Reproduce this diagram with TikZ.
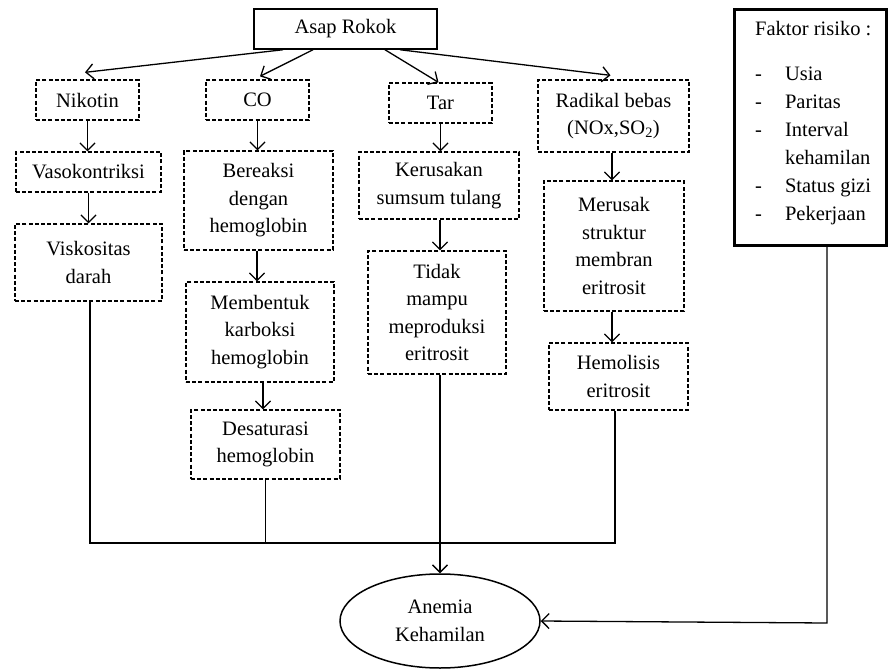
\documentclass[tikz,border=0pt]{standalone}
\usepackage{fontspec}
\setmainfont{Liberation Serif}
\usetikzlibrary{arrows.meta,shapes.geometric,calc}
\begin{document}
\begin{tikzpicture}[x=1pt,y=-1pt,
  font=\fontsize{20.5}{27.5}\selectfont,
  dbox/.style={draw,dash pattern=on 4pt off 2.2pt,line width=1.3pt,align=center,inner sep=2pt},
  sbox/.style={draw,line width=1.5pt,align=center,inner sep=2pt},
  arr/.style={line width=1.3pt,-{Straight Barb[length=7.5pt,width=15pt,line width=1.3pt]}},
  ln/.style={line width=1.3pt}]
\useasboundingbox (0,0) rectangle (889,669);
\node[sbox,minimum width=183pt,minimum height=40pt] (asap) at (345.5,29) {Asap Rokok};
\node[dbox,minimum width=103pt,minimum height=40pt] (nik) at (87.5,100) {Nikotin};
\node[dbox,minimum width=103pt,minimum height=40pt] (co) at (257.5,100) {CO};
\node[dbox,minimum width=103pt,minimum height=40pt] (tar) at (440.5,103) {Tar};
\node[dbox,minimum width=151pt,minimum height=72pt] (rad) at (613.5,116) {Radikal bebas\\(NOx,SO\textsubscript{2})};
\node[dbox,minimum width=145pt,minimum height=40pt] (vaso) at (88.5,172) {Vasokontriksi};
\node[dbox,minimum width=149pt,minimum height=99pt] (ber) at (258.5,200.5) {Bereaksi\\dengan\\hemoglobin};
\node[dbox,minimum width=160pt,minimum height=67pt] (ker) at (439,185.5) {Kerusakan\\sumsum tulang};
\node[dbox,minimum width=140pt,minimum height=130pt] (mer) at (614,246) {Merusak\\struktur\\membran\\eritrosit};
\node[dbox,minimum width=147pt,minimum height=77pt] (visk) at (88.5,262.5) {Viskositas\\darah};
\node[dbox,minimum width=148pt,minimum height=100pt] (mem) at (260,332) {Membentuk\\karboksi\\hemoglobin};
\node[dbox,minimum width=138pt,minimum height=123pt] (tid) at (437,312.5) {Tidak\\mampu\\meproduksi\\eritrosit};
\node[dbox,minimum width=139pt,minimum height=67pt] (hem) at (618.5,376.5) {Hemolisis\\eritrosit};
\node[dbox,minimum width=149pt,minimum height=69pt] (des) at (265.5,444.5) {Desaturasi\\hemoglobin};
\node[draw,line width=3pt,minimum width=152pt,minimum height=235pt,inner sep=0pt] (fak) at (810.5,127.5) {};
\node[anchor=north west,inner sep=0pt,align=left] (faktxt) at (755,16) {%
\fontsize{20.5}{28}\selectfont
\begin{tabular}{@{}l@{\hspace{23pt}}l@{}}
\multicolumn{2}{@{}l}{Faktor risiko :}\\[17pt]
- & Usia\\
- & Paritas\\
- & Interval\\
  & kehamilan\\
- & Status gizi\\
- & Pekerjaan
\end{tabular}};
\node[draw,ellipse,line width=1.5pt,minimum width=200pt,minimum height=94pt,align=center,inner sep=0pt] (anem) at (440,621) {Anemia\\Kehamilan};
\coordinate (jl) at (90,543);
\coordinate (fk) at (827,623);
% arrows from Asap Rokok
\draw[arr] ([xshift=-62.5pt]asap.south) -- ([shift={(-2.5pt,7pt)}]nik.north);
\draw[arr] ([xshift=-32.5pt]asap.south) -- ([shift={(2.5pt,3pt)}]co.north);
\draw[arr] ([xshift=39.5pt]asap.south) -- ([xshift=-2pt]tar.north);
\draw[arr] ([xshift=54.5pt]asap.south) -- ([shift={(-3pt,4pt)}]rad.north);
% column arrows
\draw[arr] (nik.south) -- (nik.south |- vaso.north);
\draw[arr] (vaso.south) -- (vaso.south |- visk.north);
\draw[arr] (co.south) -- (co.south |- ber.north);
\draw[arr] ([xshift=-1.5pt]ber.south) -- ([xshift=-1.5pt]ber.south |- mem.north);
\draw[arr] ([xshift=3pt]mem.south) -- ([xshift=3pt]mem.south |- des.north);
\draw[arr] (tar.south) -- (tar.south |- ker.north);
\draw[arr] ([xshift=1pt]ker.south) -- ([xshift=1pt]ker.south |- tid.north);
\draw[arr] ([xshift=-1.5pt]rad.south) -- ([xshift=-1.5pt]rad.south |- mer.north);
\draw[arr] ([xshift=-2pt]mer.south) -- ([xshift=-2pt]mer.south |- hem.north);
% to anemia
\draw[ln] ([xshift=1.5pt]visk.south) -- ([xshift=1.5pt]visk.south |- jl) -- ([xshift=-3.5pt]hem.south |- jl) -- ([xshift=-3.5pt]hem.south);
\draw[ln] (des.south) -- (des.south |- jl);
\draw[arr] (anem.north |- tid.south) -- (anem.north);
\draw[arr] (fak.south -| fk) -- (fk) -- (anem.east);
\end{tikzpicture}
\end{document}
